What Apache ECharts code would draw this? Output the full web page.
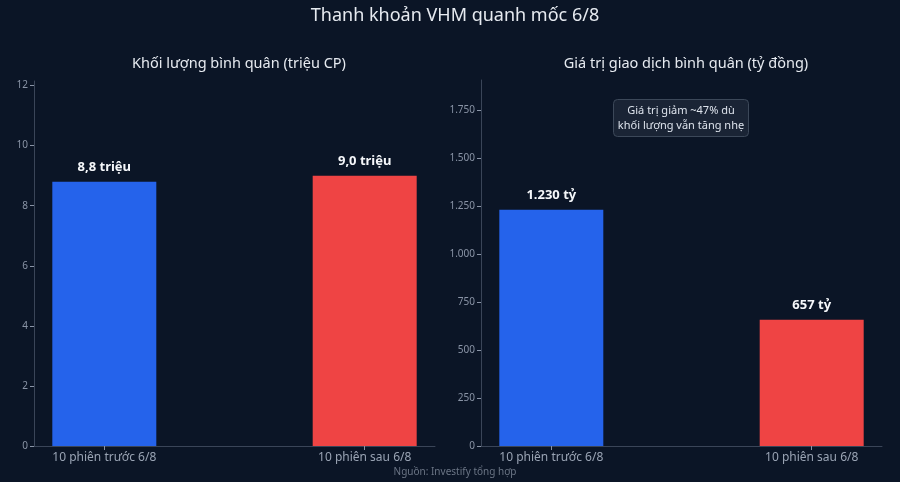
<!DOCTYPE html>
<html>
<head>
<meta charset="utf-8">
<style>
  html, body { margin: 0; padding: 0; background: #0b1526; }
  #chart { width: 900px; height: 482px; }
</style>
<script src="https://cdn.jsdelivr.net/npm/echarts@6/dist/echarts.min.js"></script>
</head>
<body>
<div id="chart"></div>
<script>
  // du lieu
  var categories = ['10 phiên trước 6/8', '10 phiên sau 6/8'];
  var volume = [8.8, 9.0];          // trieu CP
  var value = [1230, 657];          // ty dong
  var volumeLabels = ['8,8 triệu', '9,0 triệu'];
  var valueLabels = ['1.230 tỷ', '657 tỷ'];
  var volumeTicks = [0, 2, 4, 6, 8, 10, 12];
  var valueTicks = [0, 250, 500, 750, 1000, 1250, 1500, 1750];
  var colors = ['#2563eb', '#ef4444'];

  var font = 'Noto Sans';
  var axisColor = '#3a4558';
  var labelColor = '#8a94a6';

  function fmtThousand(v) {
    return String(v).replace(/\B(?=(\d{3})+(?!\d))/g, '.');
  }

  function xAxisOf(idx) {
    return {
      gridIndex: idx, type: 'value', min: -0.27, max: 1.27,
      axisLine: { show: true, onZero: false, lineStyle: { color: axisColor } },
      axisTick: { show: true, customValues: [0, 1], length: 4, lineStyle: { color: labelColor } },
      axisLabel: {
        customValues: [0, 1], color: '#9aa4b4', fontSize: 12, fontFamily: font, margin: 6,
        formatter: function (v) { return categories[Math.round(v)]; }
      },
      splitLine: { show: false }
    };
  }

  function yAxisOf(idx, max, ticks, fmt) {
    return {
      gridIndex: idx, type: 'value', min: 0, max: max,
      axisLine: { show: true, onZero: false, lineStyle: { color: axisColor } },
      axisTick: { show: true, customValues: ticks, length: 4, lineStyle: { color: labelColor } },
      axisLabel: { customValues: ticks, color: labelColor, fontSize: 10, fontFamily: font, margin: 6, formatter: fmt },
      splitLine: { show: false }
    };
  }

  function barData(vals, labels) {
    return vals.map(function (v, i) {
      return {
        value: [i, v],
        itemStyle: { color: colors[i] },
        label: { formatter: labels[i] }
      };
    });
  }

  var chart = echarts.init(document.getElementById('chart'));
  chart.setOption({
    backgroundColor: '#0b1526',
    animation: false,
    title: [
      { text: 'Thanh khoản VHM quanh mốc 6/8', left: 450, top: 2, textAlign: 'center',
        textStyle: { color: '#e6eaf0', fontSize: 18, fontWeight: 'normal', fontFamily: font } },
      { text: 'Khối lượng bình quân (triệu CP)', left: 234, top: 51, textAlign: 'center',
        textStyle: { color: '#e6eaf0', fontSize: 14.5, fontWeight: 'normal', fontFamily: font } },
      { text: 'Giá trị giao dịch bình quân (tỷ đồng)', left: 681, top: 51, textAlign: 'center',
        textStyle: { color: '#e6eaf0', fontSize: 14.5, fontWeight: 'normal', fontFamily: font } },
      { text: 'Giá trị giảm ~47% dù\nkhối lượng vẫn tăng nhẹ', left: 676, top: 99, textAlign: 'center',
        padding: [4, 5, 4, 5], backgroundColor: '#1a2435', borderColor: '#3c4859', borderWidth: 1, borderRadius: 4,
        textStyle: { color: '#dde3ec', fontSize: 11, fontWeight: 'normal', fontFamily: font, lineHeight: 15 } },
      { text: 'Nguồn: Investify tổng hợp', left: 450, top: 462, textAlign: 'center',
        textStyle: { color: '#6b7585', fontSize: 10, fontWeight: 'normal', fontFamily: font } }
    ],
    grid: [
      { left: 34, width: 401, top: 81, height: 365 },
      { left: 481, width: 401, top: 80, height: 366 }
    ],
    xAxis: [xAxisOf(0), xAxisOf(1)],
    yAxis: [
      yAxisOf(0, 12.15, volumeTicks, function (v) { return String(v); }),
      yAxisOf(1, 1906, valueTicks, fmtThousand)
    ],
    series: [
      {
        type: 'bar', xAxisIndex: 0, yAxisIndex: 0, barWidth: 104,
        data: barData(volume, volumeLabels),
        label: { show: true, position: 'top', distance: 8, color: '#f5f7fa', fontSize: 13, fontWeight: 'bold', fontFamily: font }
      },
      {
        type: 'bar', xAxisIndex: 1, yAxisIndex: 1, barWidth: 104,
        data: barData(value, valueLabels),
        label: { show: true, position: 'top', distance: 8, color: '#f5f7fa', fontSize: 13, fontWeight: 'bold', fontFamily: font }
      }
    ]
  });
</script>
</body>
</html>
